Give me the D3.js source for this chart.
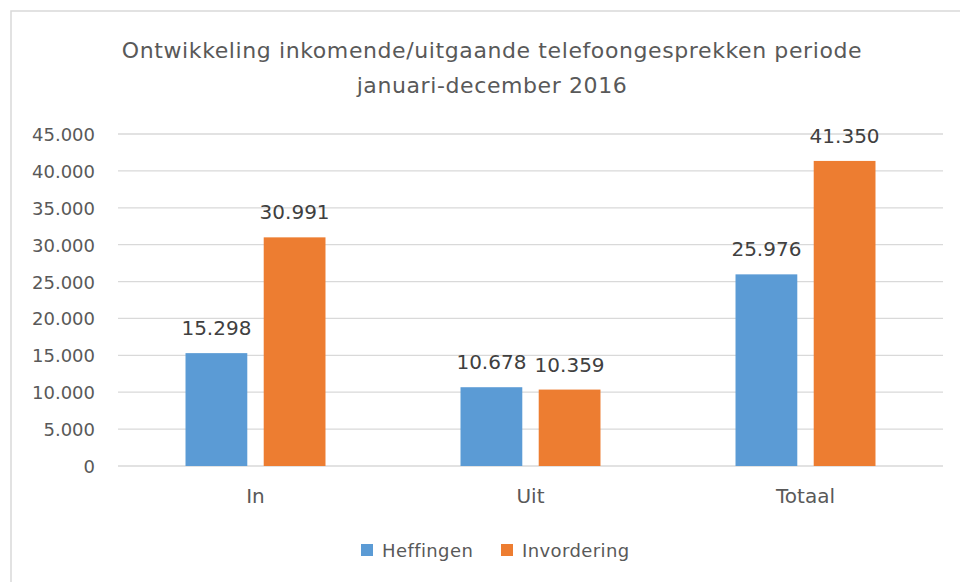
<!DOCTYPE html>
<html>
<head>
<meta charset="utf-8">
<script src="https://cdn.jsdelivr.net/npm/d3@7"></script>
<style>
  body { margin: 0; background: #fff; }
  text { font-family: "DejaVu Sans", sans-serif; }
</style>
</head>
<body>
<script>
var categories = ["In", "Uit", "Totaal"];
var series = ["Heffingen", "Invordering"];
var heffingen = [15298, 10678, 25976];
var invordering = [30991, 10359, 41350];
var yTicks = [0, 5000, 10000, 15000, 20000, 25000, 30000, 35000, 40000, 45000];
var titleLines = ["Ontwikkeling inkomende/uitgaande telefoongesprekken periode", "januari-december 2016"];
var colors = ["#5B9BD5", "#ED7D31"];

var width = 960, height = 582;
var margin = {top: 134, right: 17, bottom: 116, left: 118};

var nl = d3.formatLocale({decimal: ",", thousands: ".", grouping: [3], currency: ["€", ""]});
var fmt = nl.format(",d");

var svg = d3.select("body").append("svg")
    .attr("width", width)
    .attr("height", height);

// chart border
svg.append("rect")
    .attr("x", 11).attr("y", 11)
    .attr("width", 960).attr("height", 600)
    .attr("fill", "none")
    .attr("stroke", "#d9d9d9")
    .attr("stroke-width", 1.5);

// title
svg.selectAll(".title")
  .data(titleLines)
  .enter().append("text")
    .attr("class", "title")
    .attr("x", 492)
    .attr("y", function(d, i) { return 58 + i * 35; })
    .attr("text-anchor", "middle")
    .style("font-size", "22px")
    .style("letter-spacing", "0.6px")
    .style("fill", "#595959")
    .text(function(d) { return d; });

var x0 = d3.scaleBand()
    .domain(categories)
    .range([margin.left, width - margin.right])
    .paddingInner(0.491)
    .paddingOuter(0.2455);

var x1 = d3.scaleBand()
    .domain(series)
    .range([0, x0.bandwidth()])
    .paddingInner(0.21);

var y = d3.scaleLinear()
    .domain([0, 45000])
    .range([height - margin.bottom, margin.top]);

// gridlines
svg.append("g")
  .selectAll("line")
  .data(yTicks)
  .enter().append("line")
    .attr("x1", margin.left)
    .attr("x2", width - margin.right)
    .attr("y1", function(d) { return y(d); })
    .attr("y2", function(d) { return y(d); })
    .attr("stroke", "#d9d9d9")
    .attr("stroke-width", 1.3);

// y axis labels
var yAxis = svg.append("g")
    .attr("transform", "translate(" + (margin.left - 23) + ",0)")
    .call(d3.axisLeft(y).tickValues(yTicks).tickFormat(fmt).tickSize(0).tickPadding(0));
yAxis.select(".domain").remove();
yAxis.selectAll("text")
    .style("font-size", "18px")
    .style("fill", "#595959")
    .attr("dy", "0.36em");

// bars
var rows = categories.map(function(c, i) {
  return {cat: c, vals: [heffingen[i], invordering[i]]};
});

var groups = svg.selectAll(".grp")
  .data(rows)
  .enter().append("g")
    .attr("class", "grp")
    .attr("transform", function(d) { return "translate(" + x0(d.cat) + ",0)"; });

groups.selectAll("rect")
  .data(function(d) { return d.vals.map(function(v, j) { return {s: series[j], v: v, j: j}; }); })
  .enter().append("rect")
    .attr("x", function(d) { return x1(d.s); })
    .attr("y", function(d) { return y(d.v); })
    .attr("width", x1.bandwidth())
    .attr("height", function(d) { return y(0) - y(d.v); })
    .attr("fill", function(d) { return colors[d.j]; });

groups.selectAll(".val")
  .data(function(d) { return d.vals.map(function(v, j) { return {s: series[j], v: v, j: j}; }); })
  .enter().append("text")
    .attr("class", "val")
    .attr("x", function(d) { return x1(d.s) + x1.bandwidth() / 2; })
    .attr("y", function(d) { return y(d.v) - 18; })
    .attr("text-anchor", "middle")
    .style("font-size", "20px")
    .style("fill", "#404040")
    .text(function(d) { return fmt(d.v); });

// x axis labels
var xAxis = svg.append("g")
    .attr("transform", "translate(0," + (height - margin.bottom) + ")")
    .call(d3.axisBottom(x0).tickSize(0).tickPadding(0));
xAxis.select(".domain").remove();
xAxis.selectAll("text")
    .attr("y", 37)
    .attr("dy", 0)
    .style("font-size", "20px")
    .style("fill", "#595959");

// legend
var legendX = [361, 501];
var legend = svg.selectAll(".legend")
  .data(series)
  .enter().append("g")
    .attr("class", "legend")
    .attr("transform", function(d, i) { return "translate(" + legendX[i] + ",544)"; });
legend.append("rect")
    .attr("width", 12).attr("height", 12)
    .attr("fill", function(d, i) { return colors[i]; });
legend.append("text")
    .attr("x", 21).attr("y", 13)
    .style("font-size", "18px")
    .style("letter-spacing", "0.4px")
    .style("fill", "#595959")
    .text(function(d) { return d; });
</script>
</body>
</html>
